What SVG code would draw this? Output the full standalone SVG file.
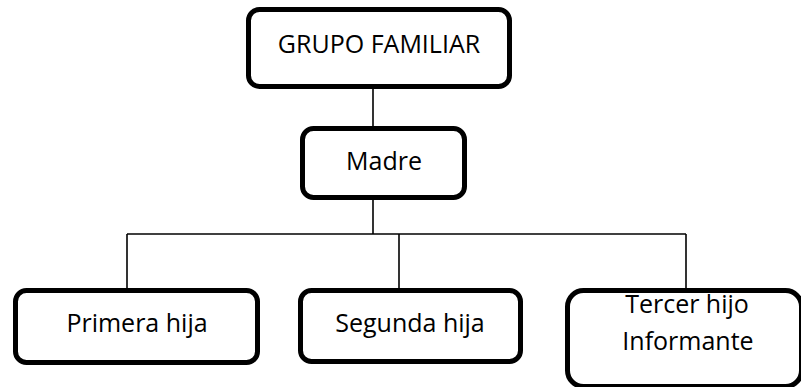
<svg xmlns="http://www.w3.org/2000/svg" width="801" height="387" viewBox="0 0 801 387">
<style>
.box{fill:#fff;stroke:#000;stroke-width:5}
.lbl{font-family:"Open Sans","Liberation Sans",sans-serif;font-size:25px;fill:#000;text-anchor:middle}
.con{stroke:#000;stroke-width:1.6;fill:none}
</style>
<rect width="801" height="387" fill="#fff"/>
<g id="connectors">
<line class="con" x1="373" y1="87" x2="373" y2="128"/>
<line class="con" x1="373" y1="198" x2="373" y2="234"/>
<line class="con" x1="127" y1="234" x2="686" y2="234"/>
<line class="con" x1="127" y1="234" x2="127" y2="290"/>
<line class="con" x1="399" y1="234" x2="399" y2="290"/>
<line class="con" x1="686" y1="234" x2="686" y2="290"/>
</g>
<g id="grupo">
<rect class="box" x="248.5" y="9.5" width="261" height="77" rx="11"/>
<text class="lbl" x="379" y="53">GRUPO FAMILIAR</text>
</g>
<g id="madre">
<rect class="box" x="302.5" y="128.5" width="162" height="69" rx="11"/>
<text class="lbl" x="384" y="170">Madre</text>
</g>
<g id="primera">
<rect class="box" x="15.5" y="290.5" width="242" height="72" rx="11"/>
<text class="lbl" x="137" y="332">Primera hija</text>
</g>
<g id="segunda">
<rect class="box" x="300.5" y="290.5" width="220" height="71" rx="11"/>
<text class="lbl" x="410" y="332">Segunda hija</text>
</g>
<g id="tercer">
<rect class="box" x="567.5" y="290.5" width="234" height="96" rx="16"/>
<text class="lbl" x="687" y="313">Tercer hijo</text>
<text class="lbl" x="688" y="350">Informante</text>
</g>
</svg>
